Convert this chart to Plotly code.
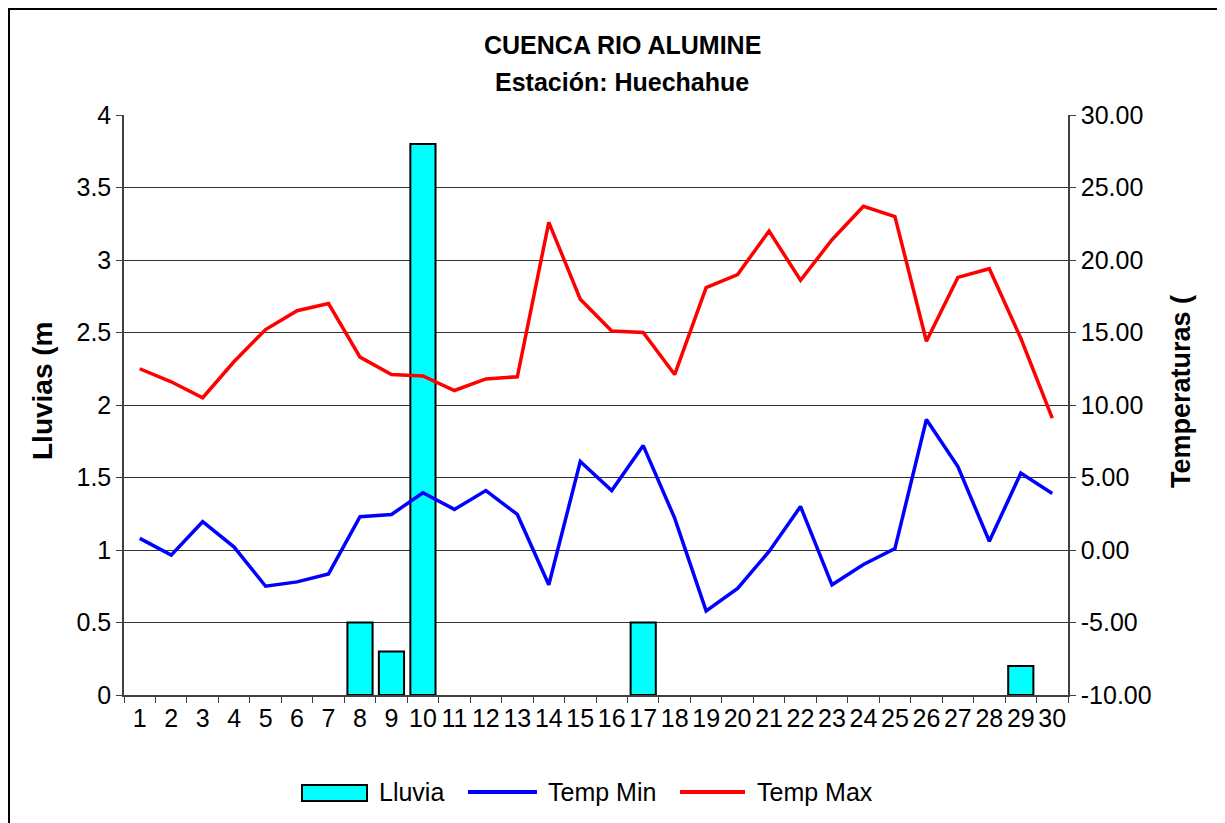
import plotly.graph_objects as go

days = [str(i) for i in range(1, 31)]
lluvia = [0, 0, 0, 0, 0, 0, 0, 0.5, 0.3, 3.8, 0, 0, 0, 0, 0, 0, 0.5, 0, 0, 0,
          0, 0, 0, 0, 0, 0, 0, 0, 0.2, 0]
temp_min = [0.8, -0.35, 1.95, 0.2, -2.5, -2.2, -1.65, 2.3, 2.45, 3.95,
            2.8, 4.1, 2.45, -2.4, 6.1, 4.1, 7.2, 2.2, -4.2, -2.65,
            -0.1, 3.0, -2.4, -1.0, 0.1, 9.0, 5.75, 0.6, 5.3, 3.9]
temp_max = [12.5, 11.6, 10.5, 13.0, 15.2, 16.5, 17.0, 13.3, 12.1, 12.0,
            11.0, 11.8, 11.95, 22.6, 17.3, 15.1, 15.0, 12.1, 18.1, 19.0,
            22.0, 18.6, 21.4, 23.7, 23.0, 14.4, 18.8, 19.4, 14.6, 9.1]
temp_ticks = [-10, -5, 0, 5, 10, 15, 20, 25, 30]
temp_labels = ["%.2f" % v for v in temp_ticks]
series_names = ["Lluvia", "Temp Min", "Temp Max"]
series_colors = ["#00FFFF", "#0000FF", "#FF0000"]

FONT = "Liberation Sans, Arial, sans-serif"

OFF = 8  # page body margin
W, H = 1225 - OFF, 823 - OFF
# plot area in page pixels
PL, PR, PT, PB = 124, 1068, 115, 695
L, R, T, B = PL - OFF, PR - OFF, PT - OFF, PB - OFF
pw, ph = R - L, B - T


def px(x):
    return (x - PL) / pw


def py(y):
    return (PB - y) / ph


fig = go.Figure()
fig.add_trace(go.Bar(x=days, y=lluvia, name=series_names[0], yaxis="y",
                     marker=dict(color=series_colors[0],
                                 line=dict(color="black",
                                           width=[2 if v > 0 else 0 for v in lluvia]))))
fig.add_trace(go.Scatter(x=days, y=temp_min, name=series_names[1], yaxis="y2", mode="lines",
                         line=dict(color=series_colors[1], width=3.5)))
fig.add_trace(go.Scatter(x=days, y=temp_max, name=series_names[2], yaxis="y2", mode="lines",
                         line=dict(color=series_colors[2], width=3.5)))

axis_common = dict(showline=True, linecolor="#404040", linewidth=1.5,
                   ticks="outside", ticklen=6, tickcolor="#404040",
                   tickfont=dict(family=FONT, size=25, color="black"))

fig.update_layout(
    width=W, height=H, autosize=False,
    margin=dict(l=L, r=W - R, t=T, b=H - B, pad=0),
    paper_bgcolor="white", plot_bgcolor="white",
    font=dict(family=FONT, size=25, color="black"),
    bargap=0.2,
    showlegend=False,
    xaxis=dict(type="category", tickson="boundaries", showgrid=False, tickangle=0,
               tickmode="array", tickvals=days, ticktext=days, **axis_common),
    yaxis=dict(range=[0, 4], dtick=0.5, showgrid=True, gridcolor="#333333", gridwidth=1,
               zeroline=False, **axis_common),
    yaxis2=dict(range=[-10, 30], tickmode="array", tickvals=temp_ticks, ticktext=temp_labels,
                overlaying="y", side="right", showgrid=False, zeroline=False, **axis_common),
)

annotations = [
    dict(text="<b>CUENCA RIO ALUMINE</b>", x=px(622), y=py(45), font=dict(size=25)),
    dict(text="<b>Estación: Huechahue</b>", x=px(622), y=py(82), font=dict(size=25)),
    dict(text="<b>Lluvias (m</b>", x=px(42), y=py(391), textangle=-90, font=dict(size=28)),
    dict(text="<b>Temperaturas (</b>", x=px(1181), y=py(392), textangle=-90, font=dict(size=27)),
]
for a in annotations:
    a.update(xanchor="center")

# legend (drawn manually to match the wide symbols of the original)
leg_y = 792
leg_text_x = [377, 546, 755]
for name, tx in zip(series_names, leg_text_x):
    annotations.append(dict(text=name, x=px(tx), y=py(leg_y), xanchor="left",
                            font=dict(size=25)))
for a in annotations:
    a.update(xref="paper", yref="paper", showarrow=False, yanchor="middle")
    a["font"]["family"] = FONT
    a["font"]["color"] = "black"
fig.update_layout(annotations=annotations)

fig.add_shape(type="rect", xref="paper", yref="paper",
              x0=px(302), x1=px(367), y0=py(785), y1=py(801),
              line=dict(color="black", width=2), fillcolor=series_colors[0])
for (x0, x1), col in zip([(468, 537), (680, 745)], series_colors[1:]):
    fig.add_shape(type="line", xref="paper", yref="paper",
                  x0=px(x0), x1=px(x1), y0=py(leg_y), y1=py(leg_y),
                  line=dict(color=col, width=4))

fig.add_shape(type="rect", xref="paper", yref="paper",
              x0=px(OFF + 1), x1=px(1260), y0=py(OFF + 1), y1=py(860),
              line=dict(color="black", width=2), fillcolor="rgba(0,0,0,0)", layer="below")

fig.write_html("out.html")
